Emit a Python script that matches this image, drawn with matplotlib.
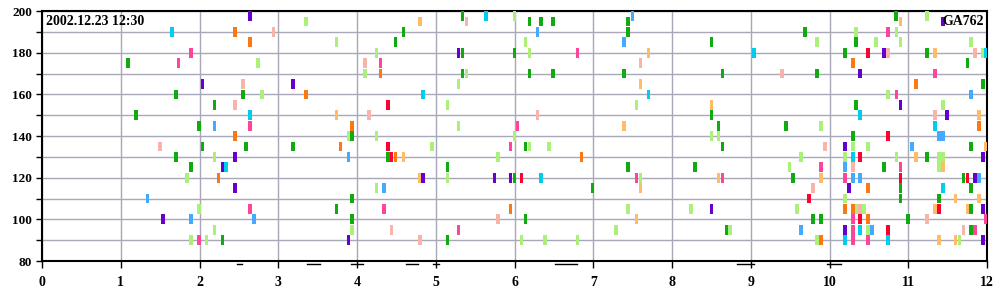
import matplotlib
matplotlib.use("Agg")
import matplotlib.pyplot as plt

# marks per colour, (x, y)
green = [(1.09, 175), (1.70, 160), (2.19, 155), (2.55, 160), (1.19, 150), (1.99, 145), (2.04, 135),
         (2.59, 135), (1.70, 130), (1.89, 125), (2.29, 90),
         (4.59, 190), (4.49, 185), (5.34, 197.5), (5.34, 180), (5.34, 170), (3.94, 140), (3.19, 135),
         (4.39, 130), (5.15, 125), (3.94, 110), (3.74, 105), (3.94, 100), (5.15, 90),
         (6.19, 195), (6.34, 195), (6.49, 195), (7.445, 195), (7.445, 190), (8.50, 185), (6.00, 180),
         (6.19, 170), (6.49, 170), (7.39, 170), (8.64, 170), (8.50, 150), (8.59, 145), (6.14, 135),
         (8.64, 135), (7.445, 125), (8.295, 125), (6.00, 120), (6.99, 115), (6.14, 100), (8.69, 95),
         (10.846, 197.5), (9.69, 190), (10.34, 185), (10.20, 180), (11.24, 180), (11.75, 175),
         (9.84, 170), (11.95, 165), (10.34, 155), (9.45, 145), (10.30, 140), (11.80, 135),
         (11.24, 130), (10.69, 125), (9.54, 120), (11.70, 120), (10.90, 115), (11.80, 115),
         (10.90, 110), (11.39, 110), (11.80, 105), (9.79, 100), (9.89, 100), (11.00, 100), (11.80, 95)]
light_green = [(2.19, 130), (1.84, 120), (1.99, 105), (2.19, 95), (1.89, 90), (2.09, 90),
               (3.35, 195), (3.74, 185), (4.25, 180), (2.74, 175), (4.10, 170), (5.39, 170), (5.29, 165),
               (2.79, 160), (5.15, 155), (5.29, 145), (3.89, 140), (4.25, 140), (4.95, 135),
               (5.79, 130), (5.15, 120), (4.25, 115), (3.94, 95),
               (6.00, 197.5), (6.14, 185), (6.19, 180), (7.55, 155), (6.00, 140), (8.50, 140), (8.59, 140),
               (6.19, 135), (6.44, 135), (7.60, 120), (7.445, 105), (8.245, 105), (7.29, 95), (8.74, 95),
               (6.09, 90), (6.39, 90), (6.80, 90),
               (11.24, 197.5), (10.34, 190), (10.85, 190), (9.84, 185), (10.59, 185), (10.90, 185),
               (11.80, 185), (11.95, 180), (10.745, 160), (11.44, 155), (9.89, 145), (10.30, 135),
               (10.49, 135), (9.64, 130), (10.20, 130), (10.85, 130), (11.39, 130), (11.44, 130),
               (9.49, 125), (11.39, 125), (10.20, 110), (9.59, 105), (10.34, 105), (10.44, 105),
               (10.49, 95), (9.84, 90), (11.65, 90)]
orange = [(2.45, 190), (2.64, 185), (2.45, 140), (2.24, 120),
          (3.35, 160), (4.30, 170), (3.94, 145), (3.79, 135), (4.49, 130),
          (6.85, 130), (5.95, 105),
          (10.30, 175), (11.10, 165), (11.90, 145), (10.49, 115), (10.20, 105), (10.30, 105),
          (10.49, 100), (9.89, 90)]
light_orange = [(4.80, 195), (3.74, 150), (4.59, 130), (4.80, 120),
                (7.70, 180), (7.60, 165), (8.50, 155), (7.39, 145), (8.59, 120), (7.60, 115), (7.55, 100),
                (10.90, 195), (11.34, 180), (11.90, 150), (11.98, 135), (11.10, 130), (11.44, 125),
                (9.89, 120), (11.34, 105), (11.75, 105), (11.60, 110), (11.90, 110), (11.39, 90), (11.60, 90)]
pink = [(1.89, 180), (1.735, 175), (2.64, 145), (2.64, 105), (1.99, 90),
        (4.30, 175), (4.34, 105), (5.29, 95),
        (6.80, 180), (6.04, 145), (5.95, 135), (7.55, 120), (8.64, 120),
        (10.745, 190), (11.34, 170), (10.85, 160), (9.89, 125), (10.90, 125), (10.20, 120),
        (10.30, 100), (10.30, 95), (11.98, 100), (11.85, 95), (10.30, 90), (10.49, 90)]
red = [(4.39, 155), (4.39, 135), (4.44, 130), (6.09, 120),
       (10.49, 180), (10.745, 140), (10.39, 130), (10.90, 120), (11.75, 120), (9.74, 110),
       (11.39, 105), (10.39, 100), (10.745, 95)]
purple = [(2.64, 197.5), (2.04, 165), (2.45, 130), (2.29, 125), (2.45, 115), (1.54, 100),
          (3.19, 165), (5.29, 180), (4.84, 120), (5.745, 120), (3.89, 90),
          (5.95, 120), (8.50, 105),
          (11.44, 195), (10.69, 180), (10.39, 170), (10.90, 155), (11.49, 150), (10.20, 135),
          (11.95, 130), (11.85, 120), (10.25, 115), (11.95, 105), (10.20, 95), (11.95, 90)]
cyan = [(1.65, 190), (2.64, 150), (2.34, 125), (5.64, 197.5), (4.84, 160),
        (7.70, 160), (6.34, 120),
        (9.04, 180), (11.98, 180), (10.39, 150), (11.34, 145), (10.30, 130), (11.44, 115),
        (10.39, 95), (10.20, 90), (10.745, 90)]
blue = [(1.34, 110), (2.19, 145), (1.89, 100), (2.69, 100), (3.89, 130), (4.34, 115),
        (7.50, 197.5), (6.29, 190), (7.39, 185),
        (11.80, 160), (11.39, 140), (11.44, 140), (11.05, 135), (10.20, 125), (10.30, 120),
        (10.39, 120), (11.90, 120), (9.64, 95), (10.54, 95)]
salmon = [(2.55, 165), (2.45, 155), (1.50, 135),
          (2.94, 190), (5.39, 195), (4.10, 175), (4.15, 150), (5.79, 100), (4.44, 95), (4.80, 90),
          (7.60, 175), (6.29, 150),
          (10.745, 180), (11.85, 180), (9.40, 170), (11.34, 150), (9.945, 135), (10.30, 125),
          (9.79, 115), (10.39, 105), (11.24, 100), (11.70, 95)]

# short dashes under the x axis (start, end)
dashes = [(2.48, 2.54), (3.37, 3.53), (3.93, 4.08), (4.62, 4.78), (4.96, 5.04),
          (6.52, 6.79), (8.82, 9.04), (9.97, 10.14)]

stamp = "2002.12.23 12:30"
flight = "GA762"

series = [(green, "#11aa11"), (light_green, "#aaf07a"), (orange, "#ff7711"),
          (light_orange, "#ffbb66"), (pink, "#ff4499"), (red, "#ff0033"),
          (purple, "#6600cc"), (cyan, "#00ccee"), (blue, "#44aaff"), (salmon, "#f8b4aa")]

plt.rcParams["font.family"] = ["Liberation Serif", "DejaVu Serif"]
plt.rcParams["font.weight"] = "bold"

fig = plt.figure(figsize=(10, 3), dpi=100)
ax = fig.add_axes([0.042, 0.13, 0.945, 0.833])

mw, mh = 0.046, 4.7
for pts, col in series:
    xs = [p[0] for p in pts]
    ys = [p[1] - mh / 2 for p in pts]
    ax.bar(xs, mh, width=mw, bottom=ys, color=col, linewidth=0, zorder=3)

for a, b in dashes:
    ax.plot([a, b], [78.5, 78.5], color="black", lw=1, clip_on=False, zorder=4)

ax.set_xlim(0, 12)
ax.set_ylim(80, 200)
ax.set_xticks(range(0, 13))
ax.set_yticks(range(80, 201, 10))
ax.set_yticklabels([str(v) if v % 20 == 0 else "" for v in range(80, 201, 10)])
ax.grid(True, color="#a8a8b8", lw=1, zorder=0)
ax.tick_params(axis="x", direction="out", length=5, width=1, pad=6, labelsize=10)
ax.tick_params(axis="y", direction="out", length=4, width=1, pad=3, labelsize=9.5)
for s in ax.spines.values():
    s.set_linewidth(1.5)
    s.set_color("black")

ax.text(0.004, 0.985, stamp, transform=ax.transAxes, ha="left", va="top",
        fontsize=10, fontweight="bold")
ax.text(0.997, 0.985, flight, transform=ax.transAxes, ha="right", va="top",
        fontsize=10, fontweight="bold", zorder=5)

fig.savefig("out.png", dpi=100)
